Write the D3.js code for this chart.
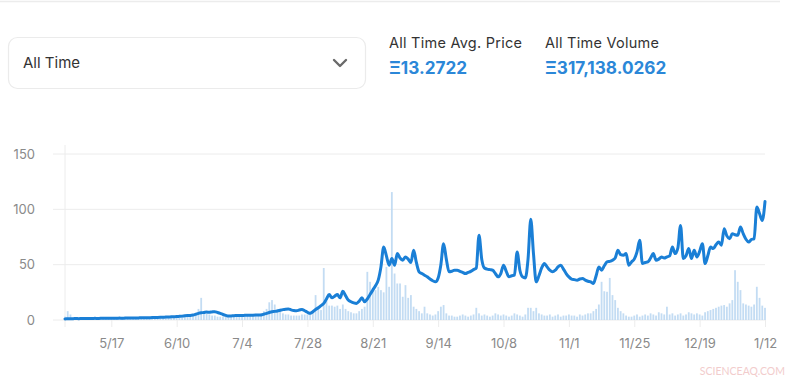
<!DOCTYPE html>
<html><head><meta charset="utf-8">
<script src="https://cdn.jsdelivr.net/npm/d3@7"></script>
<style>
html,body{margin:0;padding:0;background:#fff;}
svg{display:block;font-family:Inter,"Noto Sans",sans-serif;}
</style>
</head><body>
<svg id="c" width="800" height="381"></svg>
<script>
const startDate = "2021-04-30";
const priceValues = [
1.0,1.1,1.2,1.2,1.3,1.2,1.3,1.4,1.3,1.4,
1.4,1.5,1.4,1.5,1.5,1.6,1.5,1.5,1.6,1.6,
1.7,1.6,1.7,1.8,1.8,1.9,1.8,1.9,2.0,2.0,
2.0,2.1,2.2,2.2,2.3,2.4,2.5,2.6,2.7,2.9,
3.0,3.1,3.3,3.5,3.8,4.0,4.1,4.5,5.2,6.0,
6.5,6.8,7.2,7.0,7.3,7.5,6.8,6.0,5.0,4.2,
3.6,3.7,3.9,4.0,4.1,4.0,4.2,4.3,4.2,4.4,
4.5,4.5,4.6,5.2,6.0,6.8,7.5,7.8,8.2,8.8,
9.4,9.8,10.0,9.2,8.6,8.4,9.0,9.6,8.4,7.0,
6.0,7.5,9.5,11.0,13.0,15.0,19.0,23.0,20.0,21.5,
23.0,20.0,26.0,22.0,18.0,16.5,15.5,15.0,17.0,20.0,
16.5,19.0,23.0,27.0,31.0,36.0,48.0,66.0,58.0,49.5,
55.5,49.5,60.0,56.0,54.0,57.0,55.0,52.0,63.0,52.0,
43.5,42.0,40.5,39.0,37.0,35.5,34.5,38.0,50.0,69.0,
55.0,43.5,44.0,45.0,45.0,44.0,43.0,42.0,43.0,44.0,
45.5,47.0,76.5,55.0,47.0,46.0,45.5,45.0,42.0,39.0,
42.0,49.5,44.0,39.0,40.0,40.5,61.5,45.0,39.0,38.0,
55.0,91.0,60.0,34.5,40.0,47.0,51.0,48.0,45.0,43.5,
45.0,48.0,49.5,46.0,42.0,39.0,37.0,36.5,36.0,37.0,37.5,
36.0,35.0,34.5,33.0,40.0,48.0,45.0,49.0,52.5,53.0,
54.0,56.0,63.0,59.0,58.5,60.0,49.5,52.5,55.0,61.5,
72.0,51.0,52.0,52.5,56.0,60.0,54.0,55.0,57.0,56.0,
57.0,58.0,66.0,60.0,65.0,85.5,55.5,58.0,64.5,55.5,
63.0,57.0,62.0,69.0,51.0,58.0,66.0,64.5,68.0,70.5,
67.5,82.5,76.0,73.5,78.0,77.0,76.5,84.0,78.0,73.0,
70.5,72.7,73.5,102.0,96.0,90.0,107.0
];
const volumeValues = [
3,8,5,2,2,1.5,1.5,1,1,1,
1,1,1,1,1,1,1,1,1,1,
1,1,1,1,1,1,1,1,1,1.5,
1.5,1.5,2,2,1.5,1.5,2,2,2,2,
2,2.5,2.5,3,3,3.5,4,5,6,10,
20,8,6,5,4,4,3,3,3,3,
2.5,2.5,3,3,3,3.5,3.5,4,4,4,
4.5,5,6,8,10,16,18,14,10,8,
6,5,5,4,4,4,4,5,5,5,
6,8,22.5,12,9,47,20,13,13,12,
13,10,14,10,8,7,6,6,8,10,
12,43.5,34.5,27,27,30,27,25,48,30,
115.6,42,33,33,21,31.5,20,22.5,12,10,
8,6,12,6,5,4,5,8,12,13.5,
6,4,4,3,3,4,5,4,3,4,
5,11,6,4,5,4,3,4,6,5,
4,5,4,3,4,6,5,4,3,5,
11,11,8,11,6,5,4,4,5,3,
4,5,3,4,4,5,4,4,3,5,4,
5,6,6,8,10,14,34.5,26,25.5,38,
22.5,18,11,8,6,4,3,3,4,5,
3,4,5,4,6,5,4,7,6,5,
12,5,6,4,5,6,4,5,7,6,
5,6,5,4,7,8,9,10,11,12,
13,13.5,12,15,18,45,34.5,27,15,14,
13,12,14,30,20,13,11
];
const yTicks = [0, 50, 100, 150];
const xTickLabels = ["5/17","6/10","7/4","7/28","8/21","9/14","10/8","11/1","11/25","12/19","1/12"];
const rangeLabel = "All Time";
const statLabels = ["All Time Avg. Price", "All Time Volume"];
const statValues = ["Ξ13.2722", "Ξ317,138.0262"];
const watermark = "SCIENCEAQ.COM";

const svg = d3.select("#c");
const start = d3.isoParse(startDate + "T00:00:00");
const dates = priceValues.map((_, i) => d3.timeDay.offset(start, i));
const endDate = dates[dates.length - 1];

const x = d3.scaleTime().domain([start, endDate]).range([65, 765]);
const y = d3.scaleLinear().domain([0, 150]).range([320, 154]);

// top border
svg.append("line").attr("x1", 0).attr("x2", 780).attr("y1", 1.5).attr("y2", 1.5)
  .attr("stroke", "#ececec").attr("stroke-width", 1.5);

// dropdown
svg.append("rect").attr("x", 8.5).attr("y", 37.5).attr("width", 357).attr("height", 51)
  .attr("rx", 9).attr("fill", "#fff").attr("stroke", "#ebebeb").attr("stroke-width", 1.2);
svg.append("text").attr("x", 23).attr("y", 68).attr("font-size", 15).attr("fill", "#333")
  .text(rangeLabel);
svg.append("path").attr("d", "M334,60 L340,66 L346,60").attr("fill", "none")
  .attr("stroke", "#6a6a6a").attr("stroke-width", 2.4).attr("stroke-linecap", "round").attr("stroke-linejoin", "round");

// stats
const statX = [389, 545];
statLabels.forEach((t, i) => {
  svg.append("text").attr("x", statX[i]).attr("y", 48).attr("font-size", 14.5)
    .attr("letter-spacing", 0.25).attr("fill", "#333").text(t);
  svg.append("text").attr("x", statX[i]).attr("y", 74).attr("font-size", 17.2).attr("font-weight", 700)
    .attr("fill", "#2b87d8").text(statValues[i]);
});

// gridlines
const g = svg.append("g");
g.selectAll("line.grid").data(yTicks).join("line")
  .attr("x1", 53).attr("x2", 765).attr("y1", d => y(d)).attr("y2", d => y(d))
  .attr("stroke", "#ececec").attr("stroke-width", 1);
g.append("line").attr("x1", 65).attr("x2", 65).attr("y1", 145).attr("y2", 327)
  .attr("stroke", "#ececec").attr("stroke-width", 1);

// y axis labels
const yAxis = d3.axisLeft(y).tickValues(yTicks).tickSize(0).tickPadding(0).tickFormat(d3.format("d"));
const ya = svg.append("g").attr("transform", "translate(35,0)").call(yAxis);
ya.select(".domain").remove();
ya.selectAll("text").attr("font-size", 13).attr("fill", "#8a8a8a").attr("font-family", "Inter,'Noto Sans',sans-serif");

// x axis
const tickDates = xTickLabels.map(s => {
  const [m, d] = s.split("/").map(Number);
  return new Date(m >= 4 ? 2021 : 2022, m - 1, d);
});
const xAxis = d3.axisBottom(x).tickValues(tickDates).tickSize(7).tickPadding(12)
  .tickFormat((d, i) => xTickLabels[i]);
const xa = svg.append("g").attr("transform", "translate(0,320)").call(xAxis);
xa.select(".domain").remove();
xa.selectAll("line").attr("stroke", "#ececec");
xa.selectAll("text").attr("font-size", 13).attr("fill", "#8a8a8a").attr("font-family", "Inter,'Noto Sans',sans-serif");

// volume bars
svg.append("g").selectAll("rect").data(volumeValues).join("rect")
  .attr("x", (d, i) => x(dates[i]) - 0.9).attr("width", 1.8)
  .attr("y", d => y(d)).attr("height", d => y(0) - y(d))
  .attr("fill", "#bcd8f2").attr("opacity", 0.9);

// price line
const line = d3.line().x((d, i) => x(dates[i])).y(d => y(d)).curve(d3.curveMonotoneX);
svg.append("path").datum(priceValues).attr("d", line).attr("fill", "none")
  .attr("stroke", "#1a7fd6").attr("stroke-width", 3).attr("stroke-linejoin", "round").attr("stroke-linecap", "round");

// watermark
svg.append("text").attr("x", 785).attr("y", 375).attr("text-anchor", "end")
  .attr("font-size", 10.5).attr("fill", "#f2cccc").attr("font-family", "Lato,sans-serif").text(watermark);
</script>
</body></html>
